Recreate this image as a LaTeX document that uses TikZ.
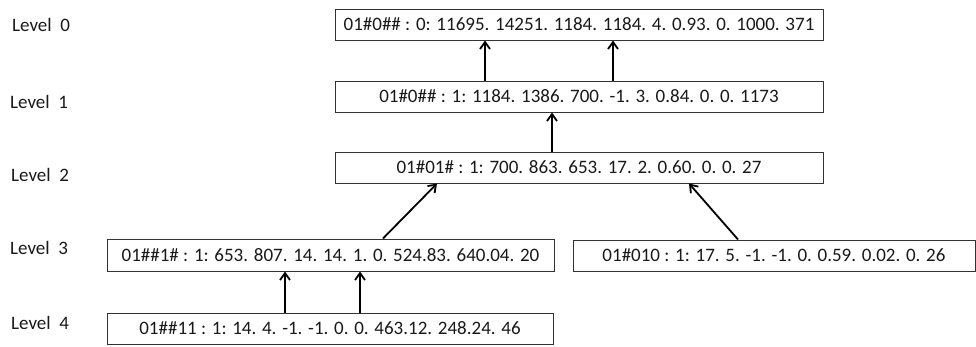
\documentclass[tikz,border=0pt]{standalone}
\usepackage{fontspec}
\setmainfont{Carlito}
\usetikzlibrary{arrows.meta}
\begin{document}
\begin{tikzpicture}[x=1pt,y=-1pt,
  box/.style={draw=black!80, line width=1pt, inner sep=0pt, anchor=center,
    font=\fontsize{19}{22}\selectfont, text=black!90},
  lvl/.style={anchor=west, inner sep=0pt, font=\fontsize{19}{22}\selectfont, text=black!90},
  arr/.style={line width=1.8pt, -{Straight Barb[length=7pt,width=10pt,line width=1.8pt]}}]
\useasboundingbox (0,0) rectangle (976,346);
\node[lvl] (t0) at (12,25) {Level\hspace{0.45em}0};
\node[lvl] (t1) at (10,102) {Level\hspace{0.45em}1};
\node[lvl] (t2) at (11,175) {Level\hspace{0.45em}2};
\node[lvl] (t3) at (10,248) {Level\hspace{0.45em}3};
\node[lvl] (t4) at (11,323) {Level\hspace{0.45em}4};
\node[box, minimum width=488pt, minimum height=31pt] (l0) at (579,24.5) {01\#0\#\# : 0: 11695. 14251. 1184. 1184. 4. 0.93. 0. 1000. 371};
\node[box, minimum width=488pt, minimum height=31pt] (l1) at (579,96.5) {01\#0\#\# : 1: 1184. 1386. 700. -1. 3. 0.84. 0. 0. 1173};
\node[box, minimum width=488pt, minimum height=31pt] (l2) at (579,167.5) {01\#01\# : 1: 700. 863. 653. 17. 2. 0.60. 0. 0. 27};
\node[box, minimum width=447pt, minimum height=32pt] (l3a) at (330.5,255) {01\#\#1\# : 1: 653. 807. 14. 14. 1. 0. 524.83. 640.04. 20};
\node[box, minimum width=402pt, minimum height=31pt] (l3b) at (774,255.5) {01\#010 : 1: 17. 5. -1. -1. 0. 0.59. 0.02. 0. 26};
\node[box, minimum width=446pt, minimum height=31pt] (l4) at (330,328.5) {01\#\#11 : 1: 14. 4. -1. -1. 0. 0. 463.12. 248.24. 46};
\draw[arr] (l1.north -| 485,0) -- (l0.south -| 485,0);
\draw[arr] (l1.north -| 613,0) -- (l0.south -| 613,0);
\draw[arr] (l2.north -| 552,0) -- (l1.south -| 552,0);
\draw[arr] (l3a.north -| 383,0) -- (l2.south -| 437,0);
\draw[arr] (l3b.north -| 738,0) -- (l2.south -| 689,0);
\draw[arr] (l4.north -| 285,0) -- (l3a.south -| 285,0);
\draw[arr] (l4.north -| 360,0) -- (l3a.south -| 360,0);
\end{tikzpicture}
\end{document}
